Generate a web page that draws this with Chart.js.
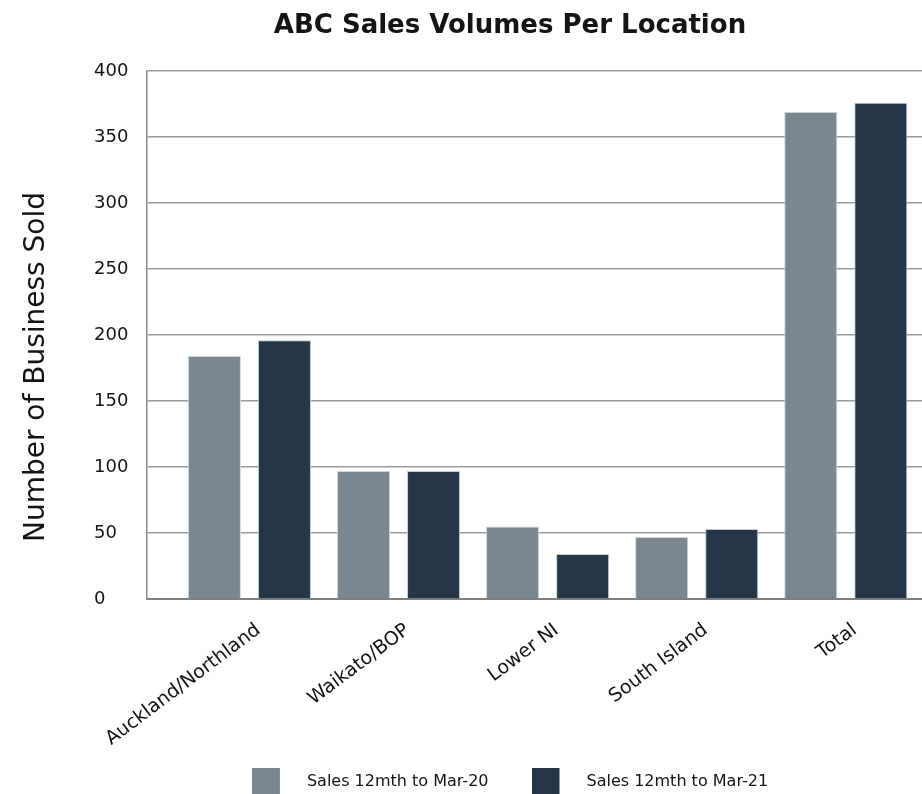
<!DOCTYPE html>
<html>
<head>
<meta charset="utf-8">
<title>ABC Sales Volumes Per Location</title>
<script src="https://cdn.jsdelivr.net/npm/chart.js@4.4.1/dist/chart.umd.min.js"></script>
<style>
  html, body { margin: 0; padding: 0; background: #ffffff; overflow: hidden; }
  #wrap { width: 922px; height: 794px; overflow: hidden; }
  canvas { display: block; }
</style>
</head>
<body>
<div id="wrap"><canvas id="salesChart" width="926" height="800"></canvas></div>
<script>
// Locations along the x axis
const categories = ['Auckland/Northland', 'Waikato/BOP', 'Lower NI', 'South Island', 'Total'];
// Businesses sold, 12 months to March 2020
const sales2020 = [184, 97, 55, 47, 369];
// Businesses sold, 12 months to March 2021
const sales2021 = [196, 97, 34, 53, 376];
// Value axis ticks
const yTicks = [0, 50, 100, 150, 200, 250, 300, 350, 400];

const seriesNames = ['Sales 12mth to Mar-20', 'Sales 12mth to Mar-21'];
const seriesColors = ['#7b878f', '#253746'];

const FONT = '"DejaVu Sans", "Open Sans", sans-serif';
const TEXT = '#141414';

// Legend swatch: a filled square with blank space after it
function swatch(color) {
  const c = document.createElement('canvas');
  c.width = 47; c.height = 28;
  const g = c.getContext('2d');
  g.fillStyle = color;
  g.fillRect(0, 0, 28, 28);
  return c;
}
const swatches = seriesColors.map(swatch);

// Rotated caption for the value axis
const yCaption = {
  id: 'yCaption',
  afterDraw(chart) {
    const ctx = chart.ctx;
    ctx.save();
    ctx.translate(37, 367);
    ctx.rotate(-Math.PI / 2);
    ctx.font = '28px ' + FONT;
    ctx.fillStyle = TEXT;
    ctx.textAlign = 'center';
    ctx.textBaseline = 'middle';
    ctx.fillText('Number of Business Sold', 0, 0);
    ctx.restore();
  }
};

const toPoints = arr => arr.map((v, i) => ({ x: i, y: v }));

new Chart(document.getElementById('salesChart'), {
  type: 'bar',
  data: {
    datasets: [
      { label: seriesNames[0], data: toPoints(sales2020), backgroundColor: seriesColors[0],
        borderColor: '#cdd4da', borderWidth: 1 },
      { label: seriesNames[1], data: toPoints(sales2021), backgroundColor: seriesColors[1],
        borderColor: '#c3ccd4', borderWidth: 1 }
    ]
  },
  options: {
    responsive: false,
    animation: false,
    devicePixelRatio: 1,
    categoryPercentage: 0.94,
    barPercentage: 0.757,
    layout: { padding: { left: 94, right: 0, top: 11, bottom: 0 } },
    plugins: {
      title: {
        display: true,
        text: 'ABC Sales Volumes Per Location',
        color: TEXT,
        font: { family: FONT, size: 26, weight: 'bold' },
        padding: { top: 0, bottom: 28.8 }
      },
      legend: {
        position: 'bottom',
        labels: {
          usePointStyle: true,
          pointStyleWidth: 47,
          color: TEXT,
          font: { family: FONT, size: 16 },
          padding: 43,
          generateLabels(chart) {
            const items = Chart.defaults.plugins.legend.labels.generateLabels(chart);
            items.forEach(it => { it.pointStyle = swatches[it.datasetIndex]; });
            return items;
          }
        }
      },
      tooltip: { enabled: false }
    },
    scales: {
      x: {
        type: 'linear',
        offset: false,
        min: -0.687,
        max: 4.538,
        afterBuildTicks: s => { s.ticks = categories.map((_, i) => ({ value: i })); },
        afterFit: s => {
          s.height = 132;
          // long rotated names run past the axis box; let them draw in full
          s._computeLabelArea = () => undefined;
        },
        ticks: {
          callback: v => categories[v],
          autoSkip: false,
          minRotation: 37,
          maxRotation: 37,
          padding: 12,
          labelOffset: 9,
          color: TEXT,
          font: { family: FONT, size: 19 }
        },
        grid: { display: false },
        border: { color: '#7f7f7f', width: 2 }
      },
      y: {
        min: 0,
        max: 400,
        afterBuildTicks: s => { s.ticks = yTicks.map(v => ({ value: v })); },
        afterFit: s => { s.width = 53; },
        ticks: {
          crossAlign: 'far',
          color: TEXT,
          font: { family: FONT, size: 18 }
        },
        grid: { color: '#9b9b9b', lineWidth: 1.5, drawTicks: false },
        border: { color: '#8a8a8a', width: 1.5 }
      }
    }
  },
  plugins: [yCaption]
});
</script>
</body>
</html>
